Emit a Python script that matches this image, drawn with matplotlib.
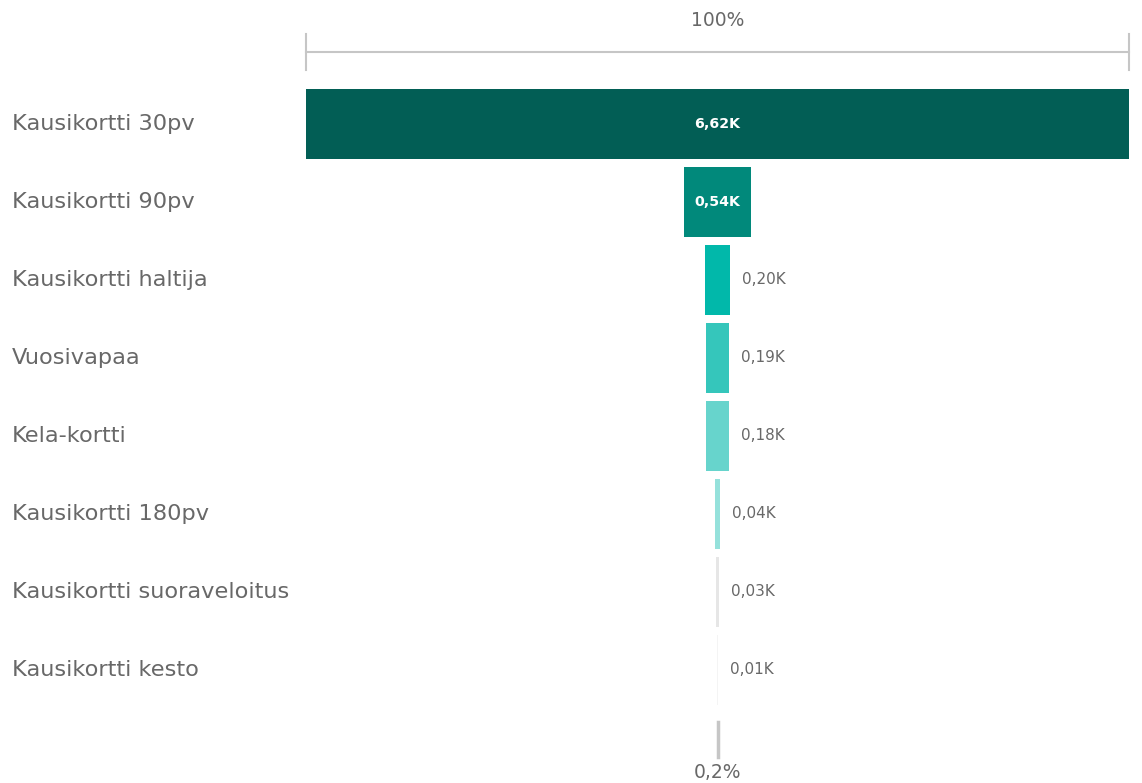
import matplotlib
matplotlib.use("Agg")
import matplotlib.pyplot as plt
import matplotlib.transforms as mtransforms

plt.rcParams['font.family'] = ['DejaVu Sans']

# funnel stages, top to bottom
categories = ["Kausikortti 30pv", "Kausikortti 90pv", "Kausikortti haltija",
              "Vuosivapaa", "Kela-kortti", "Kausikortti 180pv",
              "Kausikortti suoraveloitus", "Kausikortti kesto"]
values_k = [6.62, 0.54, 0.20, 0.19, 0.18, 0.04, 0.03, 0.01]
colors = ["#025E55", "#01897B", "#01B8AA", "#35C6BB", "#67D4CC",
          "#95E1DB", "#E6E6E6", "#F4F4F4"]

W, H, DPI = 1142, 783, 100
fig = plt.figure(figsize=(W / DPI, H / DPI), dpi=DPI)

# bar area spans x 306..1129 px; rows are 78 px apart starting at 124 px
x0, x1 = 306, 1129
ax = fig.add_axes([x0 / W, 0, (x1 - x0) / W, 1])
vmax = max(values_k)
ax.set_xlim(-vmax / 2, vmax / 2)
row0, pitch = 124, 78
ax.set_ylim((H - row0) / pitch, -row0 / pitch)
ax.axis("off")

label_gray = "#686868"
trans = mtransforms.blended_transform_factory(fig.transFigure, ax.transData)
for i, (cat, v, c) in enumerate(zip(categories, values_k, colors)):
    ax.barh(i, v, left=-v / 2, height=70 / 78, color=c, linewidth=0)
    txt = f"{v:.2f}K".replace(".", ",")
    if v / vmax > 0.05:
        ax.text(0, i, txt, ha="center", va="center", color="white",
                fontsize=10.2, fontweight="bold")
    else:
        ax.annotate(txt, (v / 2, i), xytext=(12, 0), textcoords="offset pixels",
                    ha="left", va="center", color=label_gray, fontsize=11)
    ax.text(12 / W, i, cat, transform=trans, ha="left", va="center",
            color=label_gray, fontsize=16.2)

# top bracket: first stage = 100%
line_gray = "#C6C6C6"
ax.plot([-vmax / 2, vmax / 2], [-0.923, -0.923], color=line_gray, lw=1.5,
        clip_on=False)
for xe in (-vmax / 2, vmax / 2):
    ax.plot([xe, xe], [-1.154, -0.692], color=line_gray, lw=1.5, clip_on=False)
ax.text(0, -1.333, "100%", ha="center", va="center", color=label_gray,
        fontsize=13.5)

# bottom marker: last stage relative to first
last = values_k[-1]
ax.plot([0, 0], [7.667, 8.115], color=line_gray, lw=2.5, clip_on=False)
pct = f"{last / vmax * 100:.1f}%".replace(".", ",")
ax.text(0, 8.308, pct, ha="center", va="center", color=label_gray,
        fontsize=13.5)

fig.savefig("out.png", dpi=DPI)
